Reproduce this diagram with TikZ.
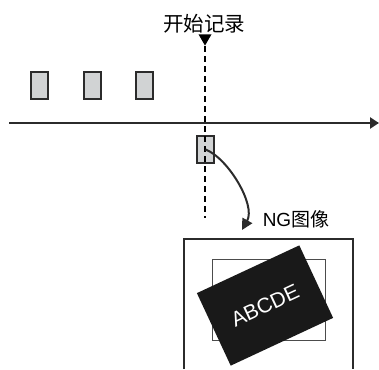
\documentclass[tikz,border=0pt]{standalone}
\usepackage{fontspec}
\setmainfont{Liberation Sans}
\newfontfamily\cjk{Noto Sans CJK SC}
\usepackage{xcolor}
\usepackage{tikz}
\usetikzlibrary{arrows.meta}
\usetikzlibrary{shapes.geometric}
\definecolor{partgray}{HTML}{D1D3D4}
\definecolor{edgegray}{HTML}{2B2B2B}
\tikzset{ part/.style = {rectangle, draw=edgegray, fill=partgray, line width=2pt, minimum width=17pt, minimum height=27pt, inner sep=0pt} }
\tikzset{ label_txt/.style = {inner sep=0pt, anchor=center} }

\begin{document}
\begin{tikzpicture}[x=1pt,y=-1pt]
    \useasboundingbox (0,0) rectangle (379,369);
            % parts passing on the belt
            \node [style=part] (p1) at (39.5, 85.5) {};
            \node [style=part] (p2) at (92, 85.5) {};
            \node [style=part] (p3) at (144.5, 85.5) {};
            \node [style=part] (ng) at (205.5, 149.5) {};
            % time axis
            \coordinate (t0) at (9, 123);
            \coordinate (t1) at (379, 123);
            \draw[line width=2.6pt, edgegray, -{Triangle[length=9pt,width=11pt]}] (t0) -- (t1);
            % trigger marker
            \node [style=label_txt, font=\cjk\fontsize{20.5}{24}\selectfont] (start) at (204, 24) {开始记录};
            \node [isosceles triangle, shape border rotate=-90, isosceles triangle apex angle=60, fill=black, inner sep=0pt, minimum width=13pt, minimum height=11pt, anchor=apex] (mark) at (205, 46) {};
            \coordinate (cut) at (205, 218);
            \draw[line width=1.5pt, dash pattern=on 6pt off 4pt] (mark.apex) -- (cut);
            % saved image
            \node [style=label_txt, font=\fontsize{19}{22}\selectfont] (img) at (296, 219) {NG{\cjk 图像}};
            \coordinate (tip) at (242, 230);
            \draw[line width=2pt, edgegray, -{Triangle[length=11pt,width=11pt]}] (ng.center) .. controls (228,158) and (256,205) .. (tip);
            % camera view
            \draw[line width=1.3pt, edgegray] (184,369) -- (184,239) -- (353,239) -- (353,369);
            \node [rectangle, draw=black!70, line width=1pt, minimum width=113pt, minimum height=81pt, inner sep=0pt] (roi) at (268.5, 299.5) {};
            \node [rectangle, fill=black!90, rotate=25, minimum width=113pt, minimum height=80pt, text=white, font=\fontsize{21}{24}\selectfont] (work) at (265, 305.5) {ABCDE};
\end{tikzpicture}
\end{document}
